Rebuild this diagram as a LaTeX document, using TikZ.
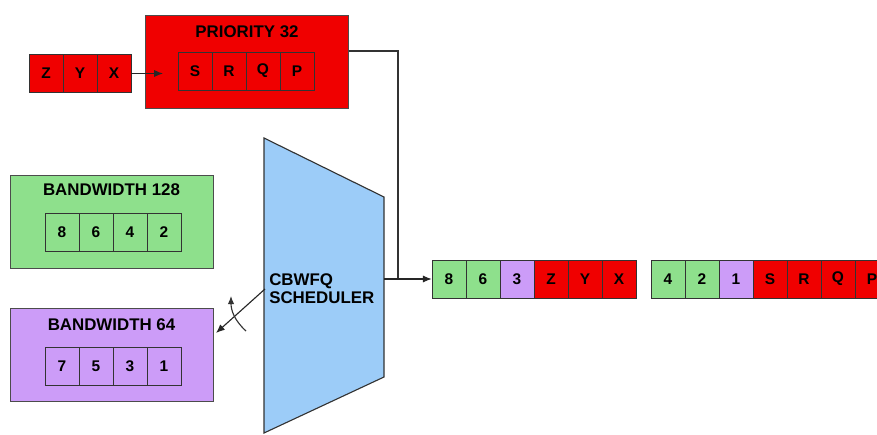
\documentclass[tikz,border=0pt]{standalone}
\usepackage{fontspec}
\setmainfont{Liberation Sans}
\usepackage{tikz}
\usetikzlibrary{positioning,arrows.meta}
\definecolor{qred}{HTML}{F00000}
\definecolor{qgreen}{HTML}{8EE08C}
\definecolor{qpurple}{HTML}{CC9CF8}
\definecolor{qblue}{HTML}{9CCCF8}
\tikzset{
  cell/.style={draw=black!80,minimum width=0.85cm,minimum height=0.95cm,inner sep=0pt,font=\fontsize{11}{13}\selectfont\bfseries},
  qbox/.style={draw=black!70,minimum width=5.075cm,minimum height=2.325cm,inner sep=0pt},
  qtitle/.style={font=\fontsize{12}{14}\selectfont\bfseries},
  flow/.style={draw=black!85,thick,-{Latex[length=2.2mm,width=1.8mm]}}
}
\begin{document}
\begin{tikzpicture}[x=0.025cm,y=-0.025cm]
\useasboundingbox (0,0) rectangle (877,435);
% priority queue
\node[qbox,fill=qred] (prio) at (247,61.5) {};
\node[qtitle] (priot) at (247,32) {PRIORITY 32};
\foreach \x/\t [count=\i] in {195/S,229/R,263/Q,297/P}{
    \node[cell,fill=qred] (p\i) at (\x,71) {\t};
}
\foreach \x/\t [count=\i] in {46/Z,80/Y,114/X}{
    \node[cell,fill=qred] (in\i) at (\x,73.5) {\t};
}
\coordinate (pin) at (163,73.5);
\draw[flow] (in3.east) -- (pin);
% bandwidth queues
\node[qbox,fill=qgreen] (bwa) at (111.5,221.5) {};
\node[qtitle] (bwat) at (111.5,190) {BANDWIDTH 128};
\foreach \x/\t [count=\i] in {62/8,96/6,130/4,164/2}{
    \node[cell] (a\i) at (\x,232.5) {\t};
}
\node[qbox,fill=qpurple] (bwb) at (111.5,354.5) {};
\node[qtitle] (bwbt) at (111.5,325) {BANDWIDTH 64};
\foreach \x/\t [count=\i] in {62/7,96/5,130/3,164/1}{
    \node[cell] (b\i) at (\x,366.5) {\t};
}
% scheduler
\draw[draw=black!80,thick,fill=qblue] (264,138) -- (384,197) -- (384,377) -- (264,433) -- cycle;
\node[qtitle,align=left,anchor=west,inner sep=0pt,font=\fontsize{12}{13}\selectfont\bfseries] (sched) at (269,289) {CBWFQ\\SCHEDULER};
\coordinate (schout) at (384,279);
\coordinate (schin) at (265,289);
\coordinate (join) at (398,279);
\coordinate (bwbin) at (216,333);
% output queue
\foreach \x/\t/\c [count=\i] in {449/8/qgreen,483/6/qgreen,517/3/qpurple,551/Z/qred,585/Y/qred,619/X/qred}{
    \node[cell,fill=\c] (o\i) at (\x,279) {\t};
}
\foreach \x/\t/\c [count=\i] in {668/4/qgreen,702/2/qgreen,736/1/qpurple,770/S/qred,804/R/qred,838/Q/qred,872/P/qred}{
    \node[cell,fill=\c] (q\i) at (\x,279) {\t};
}
\draw[draw=black!80,thick] ([yshift=7.5pt]prio.east) -| (join);
\draw[flow] (schout) -- (o1.west);
\draw[flow] (schin) -- (bwbin);
\draw[draw=black!80,thick,-{Latex[length=2mm,width=1.6mm]}] (246,331) .. controls (234,320) and (231,310) .. (231,296);
\end{tikzpicture}
\end{document}
